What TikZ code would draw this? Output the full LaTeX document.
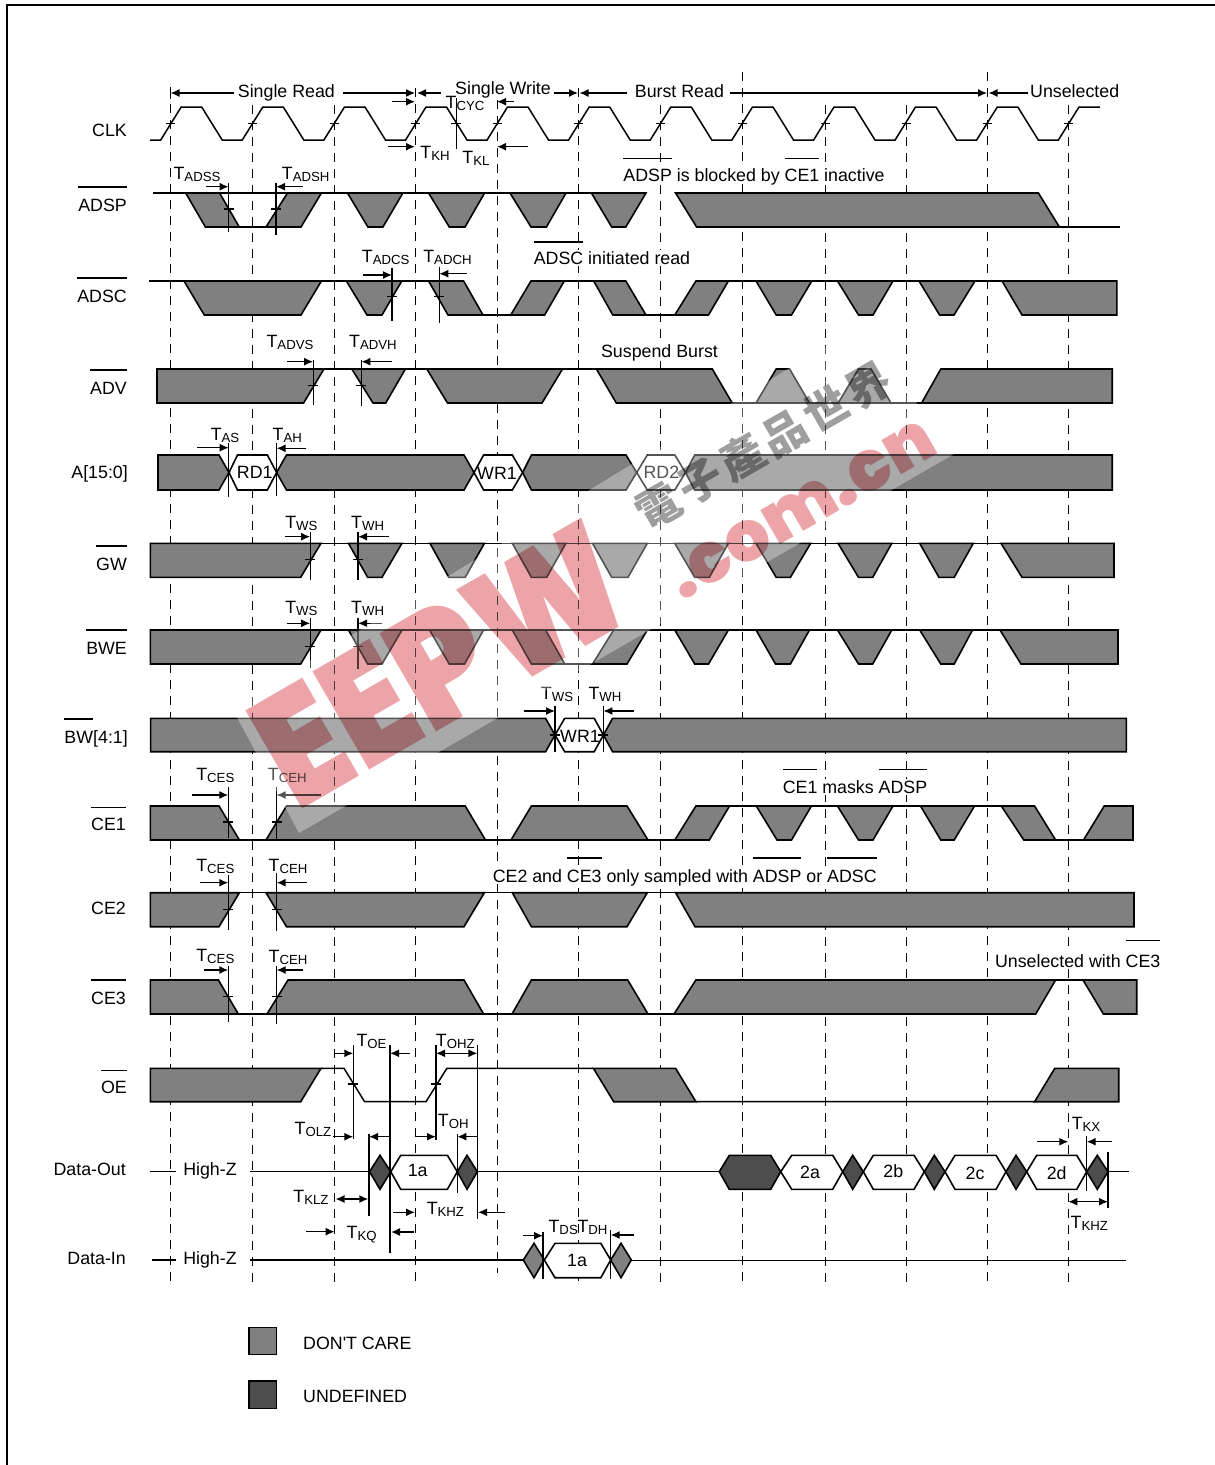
\documentclass[tikz,border=0pt]{standalone}
\usepackage{fontspec}
\setmainfont{Liberation Sans}
\newfontfamily\cjkfont[LetterSpace=10]{Noto Sans CJK SC}
\newfontfamily\wmfont[UprightFont=* Black]{Poppins}
\usetikzlibrary{arrows.meta}
\definecolor{dcgray}{HTML}{808080}
\definecolor{undefgray}{HTML}{4D4D4D}
\definecolor{wmred}{HTML}{ECA4A8}
\newbox\ovlbox
\newcommand\ovl[2][23.5pt]{\setbox\ovlbox=\hbox{#2}\rlap{\smash{\raisebox{#1}{\rule{\wd\ovlbox}{1.4pt}}}}\box\ovlbox}
\newcommand\tlab[1]{T\raisebox{-2pt}{\fontsize{13.2}{14}\selectfont #1}}
\newcommand\bands[3]{\foreach \a/\b/\c/\d in {#3} \draw[dc] (\a,#1)--(\b,#1)--(\c,#2)--(\d,#2)--cycle;}
\newcommand\hexes[5]{\foreach \a/\b/\c/\d in {#5} \draw[#1] (\a,#3)--(\b,#2)--(\c,#2)--(\d,#3)--(\c,#4)--(\b,#4)--cycle;}
\newcommand\vmark[4]{\draw[mk] (#1,#2)--(#1,#3); \draw[mk] (#1,#4) ++(-5,0)--++(10,0);}
\tikzset{
  dc/.style={fill=dcgray,draw=black,line width=1.6pt},
  ln/.style={draw=black,line width=1.5pt},
  mk/.style={draw=black,line width=1.3pt},
  ar/.style={draw=black,line width=1.4pt,-{Latex[length=9pt,width=8pt]}},
  dar/.style={draw=black,line width=1.4pt,{Latex[length=9pt,width=8pt]}-{Latex[length=9pt,width=8pt]}},
  gdash/.style={draw=black,line width=1pt,dash pattern=on 9pt off 7pt},
  lab/.style={font=\fontsize{17.8}{19}\selectfont,inner sep=0pt,text height=12pt,text depth=0pt},
  sig/.style={lab,anchor=east},
  note/.style={lab,fill=white,inner ysep=2pt},
  whex/.style={fill=white,draw=black,line width=1.6pt},
  dhex/.style={fill=undefgray,draw=black,line width=1.6pt},
  ghex/.style={fill=dcgray,draw=black,line width=1.6pt}
}
\begin{document}
\begin{tikzpicture}[x=1pt,y=-1pt]
\useasboundingbox (0,0) rectangle (1215,1465);
\draw[line width=2pt] (7,1465)--(7,5)--(1215,5);
\foreach \x/\ya/\yb in {170.5/88/1282,252/105/1282,334.5/105/1282,415.5/88/1282,497/100/1273,578.4/88/1282,660/105/1282,742.5/72/1282,825/105/1282,906/105/1282,987.5/72/1282,1068.5/105/1282}
  \draw[gdash] (\x,\ya)--(\x,\yb);

\draw[ln] (150,140)--(160.7,140)
  \foreach \r in {160.7,242.3,324,405.5,487,568.7,650.3,732,813.5,895,976.8} {
    --(\r+20.5,107)--(\r+41,107)--(\r+61.5,140)--(\r+81.6,140)}
  --(1079,107)--(1100,107);
\foreach \x in {170.5,252,334.5,415.5,497,578.4,660,742.5,825,906,987.5,1068.5}
  \draw[mk] (\x-4.5,123.5)--(\x+4.5,123.5);
\vmark{456.4}{98}{149}{123.5}

\draw[ln] (153,193)--(622,193) (239,227)--(266,227) (1059,227)--(1119.5,227);
\bands{193}{227}{185.7/219.6/239.3/205.4,347.5/402.9/382.9/367.9,428.6/484.6/465/449.3,510/566/546.4/531,591.4/646/625.8/611.7,675.6/1038.4/1059.4/696.6}
\draw[dc] (287.5,193)--(321.4,193)--(301,227)--(266,227)--cycle;

\draw[ln] (149,281)--(463,281) (483,315)--(511,315) (531,281)--(626,281) (646,315)--(675,315) (696,281)--(1002,281);
\bands{281}{315}{184/321.4/301/204.3,346.4/401.8/382/367,428.6/463.6/483/448,593.7/625.8/646/612.8,756/811.8/791.5/776.2,837.5/893/873/858.5,919/975/954/939.6,1002/1116.8/1116.8/1022}
\draw[dc] (531,281)--(564.3,281)--(544.6,315)--(510.7,315)--cycle;
\draw[dc] (695.9,281)--(728.4,281)--(708.5,315)--(674.8,315)--cycle;

\draw[ln] (324,369)--(352,369) (405,369)--(427,369) (562,369)--(597,369) (732,403)--(922,403);
\bands{369}{403}{157/324/303.6/157,351.8/405.4/385.7/373,426.8/562.5/542/447.5,596.4/712.3/732.2/616.3}
\draw[dc] (756,403)--(776.2,369)--(789.6,369)--(809.5,403)--cycle;
\draw[dc] (838.2,403)--(858.5,369)--(871,369)--(891,403)--cycle;
\draw[dc] (921.6,403)--(940.8,369)--(1112.2,369)--(1112.2,403)--cycle;

\draw[ghex] (158,455)--(219,455)--(229,472.5)--(219,490)--(158,490)--cycle;
\hexes{ghex}{455}{472.5}{490}{276.6/286.5/464/474,522.6/531.4/626/636.7}
\hexes{whex}{455}{472.5}{490}{229/237.5/267.4/276.6,474/483.6/512.3/522.6,636.7/647.3/674.8/685.5}
\draw[ghex] (685.5,472.5)--(694.7,455)--(1112.2,455)--(1112.2,490)--(694.7,490)--cycle;

\draw[ln] (321,543.3)--(1001,543.3);
\bands{543.3}{577.3}{150.3/321/300.7/150.3,348.5/402/382/367.6,430/484.4/465.2/448.8,512.3/565.9/546.7/531.4,592.5/647.3/628/611.7,674.8/728.4/709.3/694.7,756/810.7/790.4/776.2,838/891.8/872.7/858.5,919.7/973.3/954.2/938.9,1001/1114/1114/1022}

\draw[ln] (321,630)--(1000,630) (564.7,664)--(592.7,664);
\bands{630}{664}{150.3/321/300.7/150.3,348.5/402/382/367.6,429.6/483.6/464.5/449.2,512.3/545.6/564.7/531.4,674.8/728.4/708.5/694.7,756/809.5/790.4/775.5,837.5/891.8/872.7/858.5,919.7/972.5/954.2/940.8,1000/1118/1118/1021}
\draw[dc] (592.6,664)--(613.6,630)--(647.3,630)--(627,664)--cycle;

\draw[ghex] (150.6,718.3)--(545.6,718.3)--(555,735)--(545.6,751.7)--(150.6,751.7)--cycle;
\hexes{whex}{718.3}{735}{751.7}{555/564.7/594.2/603.4}
\draw[ghex] (603.4,735)--(612.6,718.3)--(1126.4,718.3)--(1126.4,751.7)--(612.6,751.7)--cycle;

\draw[ln] (239.4,840)--(266,840) (485.5,840)--(511,840) (648,840)--(675,840) (1055.6,840)--(1083.5,840) (696,806)--(1001,806);
\bands{806}{840}{150.3/219/239.4/150.3,531.4/627/648/511,1001.3/1034.6/1055.6/1023.8,756.3/811.4/791.5/777,837.5/893/873/858.5,920.5/974.5/954.2/940.8}
\draw[dc] (266,840)--(286.5,806)--(465.2,806)--(485.5,840)--cycle;
\draw[dc] (674.8,840)--(695.9,806)--(729.5,806)--(709.3,840)--cycle;
\draw[dc] (1083.5,840)--(1104.2,806)--(1133,806)--(1133,840)--cycle;

\draw[ln] (239.4,892.7)--(266,892.7) (484.4,892.7)--(512.3,892.7) (647.3,892.7)--(675.6,892.7);
\bands{892.7}{926.7}{150.3/239.4/219/150.3,266/484.4/464/286.5,512.3/647.3/627/531.4,675.6/1134/1134/695}

\draw[ln] (238.3,1014)--(267,1014) (483.6,1014)--(512,1014) (648,1014)--(674,1014) (1055.6,980)--(1083,980);
\bands{980}{1014}{150.3/218.4/238.3/150.3,288/464/483.6/267,531.4/627.7/648/512,695.9/1055.6/1035.7/674,1083/1136.7/1136.7/1103.4}

\draw[ln] (321,1068.3)--(344,1068.3)--(364.6,1101.7)--(426,1101.7)--(446.9,1068.3)--(593.4,1068.3) (695.9,1101.7)--(1034.6,1101.7);
\bands{1068.3}{1101.7}{150.3/321/300.7/150.3,593.4/675.6/695.9/613.7}
\draw[dc] (1034.6,1101.7)--(1054.8,1068.3)--(1118.7,1068.3)--(1118.7,1101.7)--cycle;

\draw[ln] (149.6,1171.7)--(175.7,1171.7) (249.7,1171.7)--(369.5,1171.7) (477.4,1171.7)--(719.3,1171.7) (1108,1171.7)--(1129,1171.7);
\hexes{dhex}{1155.3}{1171.7}{1189.3}{369.5/380/380/390.8,457.3/467/467/477.4,719.3/729.3/770.7/780.7,842.7/852.7/852.7/863.3,924.3/934.3/934.3/945,1006/1016/1016/1026.7,1086.7/1097.3/1097.3/1108}
\hexes{whex}{1155.3}{1171.7}{1189.3}{390.8/400.7/447.4/457.3,780.7/791.7/832.7/842.7,863.3/873.3/914/924.3,945/955/996/1006,1026.7/1036.7/1076.7/1086.7}

\draw[ln] (152,1260)--(175.7,1260) (249.7,1260)--(523.3,1260) (631.3,1260.5)--(1125.7,1260.5);
\hexes{ghex}{1243.3}{1260}{1277.7}{523.3/534/534/544.3,610.7/621/621/631.3}
\hexes{whex}{1243.3}{1260}{1277.7}{544.3/555/600.8/610.7}

\draw[ghex] (249,1327.3) rectangle (276.6,1354.3);
\draw[dhex] (249,1381) rectangle (276.6,1408.3);

\node[sig] (clk) at (127,130) {CLK};
\node[sig] (adsp) at (127,205) {\ovl{ADSP}};
\node[sig] (adsc) at (127,296) {\ovl{ADSC}};
\node[sig] (adv) at (127,388) {\ovl{ADV}};
\node[sig] (addr) at (128,472) {A[15:0]};
\node[sig] (gw) at (127,564) {\ovl{GW}};
\node[sig] (bwe) at (127,648) {\ovl{BWE}};
\node[sig] (bw) at (128,737) {\ovl{BW}[4:1]};
\node[sig] (ceone) at (126,824) {\ovl[22pt]{CE1}};
\node[sig] (cetwo) at (126,908) {CE2};
\node[sig] (cethree) at (126,998) {\ovl{CE3}};
\node[sig] (oe) at (127,1087) {\ovl[22pt]{OE}};
\node[sig] (dout) at (126,1169) {Data-Out};
\node[sig] (din) at (126,1258) {Data-In};
\node[lab] (hzout) at (210,1169) {High-Z};
\node[lab] (hzin) at (210,1258) {High-Z};
\node[lab] (rdone) at (254.7,472) {RD1};
\node[lab] (wrone) at (497,473) {WR1};
\node[lab] (rdtwo) at (661.4,472) {RD2};
\node[lab] (wrbw) at (580,736) {WR1};
\node[lab] (outa) at (417.7,1170) {1a};
\node[lab] (outb) at (810,1172) {2a};
\node[lab] (outc) at (893.3,1171) {2b};
\node[lab] (outd) at (975,1173) {2c};
\node[lab] (oute) at (1056.7,1173) {2d};
\node[lab] (ina) at (577,1260) {1a};
\node[lab,anchor=west] (dontcare) at (303,1343) {DON\textquotesingle T CARE};
\node[lab,anchor=west] (undef) at (303,1396) {UNDEFINED};

\node[lab] (sread) at (286.4,91) {Single Read};
\node[lab] (swrite) at (503,88) {Single Write};
\node[lab] (bread) at (679.4,91) {Burst Read};
\node[lab] (unsel) at (1074.7,91) {Unselected};
\node[note] (noteadsp) at (754,175) {\ovl[22pt]{ADSP} is blocked by \ovl[22pt]{CE1} inactive};
\node[note] (noteadsc) at (612,258) {\ovl[21.5pt]{ADSC} initiated read};
\node[note] (notesusp) at (659.5,351) {Suspend Burst};
\node[note] (notemask) at (855,787) {\ovl[22.7pt]{CE1} masks \ovl[22.7pt]{ADSP}};
\node[note] (notece) at (684.7,876) {CE2 and \ovl{CE3} only sampled with \ovl{ADSP} or \ovl{ADSC}};
\node[note] (noteunsel) at (1077.7,961) {Unselected with \ovl[26pt]{CE3}};

\draw[mk] (170.5,87)--(170.5,99);
\draw[ar] (234,93)--(170.5,93);
\draw[ar] (343,93)--(415,93);
\draw[ar] (441,93)--(417,93);
\draw[ar] (554,93)--(578,93);
\draw[ar] (627,93)--(579.5,93);
\draw[ar] (730.3,93)--(987,93);
\draw[ar] (1027.6,93)--(988.5,93);

\node[lab] (tcyc) at (465,102) {\tlab{CYC}};
\draw[ar] (391.8,101.7)--(415,101.7);
\draw[ar] (514,101.7)--(497,101.7);
\node[lab] (tkh) at (435,152) {\tlab{KH}};
\draw[ar] (387.5,146.7)--(415,146.7);
\node[lab] (tkl) at (476,157) {\tlab{KL}};
\draw[ar] (527.5,146.7)--(497,146.7);

\node[lab] (tadss) at (197,173) {\tlab{ADSS}};
\draw[ar] (206,186.7)--(228.6,186.7);
\vmark{228.6}{182.7}{231.7}{209}
\node[lab] (tadsh) at (305.7,173) {\tlab{ADSH}};
\draw[ar] (302.5,186.7)--(276,186.7);
\vmark{276}{182.7}{235}{209}

\node[lab] (tadcs) at (385.7,256) {\tlab{ADCS}};
\draw[ar] (362.5,275)--(392,275);
\vmark{392}{268}{321}{296.7}
\node[lab] (tadch) at (447.5,256) {\tlab{ADCH}};
\draw[ar] (467,273.7)--(439.3,273.7);
\vmark{439.3}{266.7}{322.7}{296.7}

\node[lab] (tadvs) at (290,341) {\tlab{ADVS}};
\draw[ar] (286.8,361.7)--(313.2,361.7);
\vmark{313.2}{360}{405}{385.7}
\node[lab] (tadvh) at (373,341) {\tlab{ADVH}};
\draw[ar] (392,361.7)--(361.4,361.7);
\vmark{361.4}{360}{405.7}{385.7}

\node[lab] (tas) at (225,434) {\tlab{AS}};
\draw[ar] (197.3,447.7)--(228.7,447.7);
\draw[mk] (228.7,443)--(228.7,496.7);
\node[lab] (tah) at (287.3,434) {\tlab{AH}};
\draw[ar] (306.4,448.3)--(276.6,448.3);
\draw[mk] (276.6,443)--(276.6,495.7);

\node[lab] (twsgw) at (301.4,522) {\tlab{WS}};
\draw[ar] (284.6,536.7)--(310.2,536.7);
\vmark{310.2}{531.7}{580}{559.3}
\node[lab] (twhgw) at (367.6,522) {\tlab{WH}};
\draw[ar] (388.7,536.7)--(358,536.7);
\vmark{358}{531.7}{580}{559.3}

\node[lab] (twsbwe) at (301.4,607.5) {\tlab{WS}};
\draw[ar] (286.5,623.3)--(310.2,623.3);
\vmark{310.2}{618.3}{668}{646.7}
\node[lab] (twhbwe) at (367.6,607.5) {\tlab{WH}};
\draw[ar] (382.2,623.3)--(358,623.3);
\vmark{358}{618.3}{669}{646.7}

\node[lab] (twsbw) at (557,693) {\tlab{WS}};
\draw[ar] (523.8,711)--(555,711);
\vmark{555}{706}{751.7}{735}
\node[lab] (twhbw) at (605,693) {\tlab{WH}};
\draw[ar] (634.4,711)--(603.4,711);
\vmark{603.4}{706}{752}{735}

\node[lab] (tcesone) at (215.3,774) {\tlab{CES}};
\draw[ar] (191.6,795)--(228.3,795);
\vmark{228.3}{787.3}{838}{822}
\node[lab] (tcehone) at (287.3,774) {\tlab{CEH}};
\draw[ar] (320.6,795)--(276.6,795);
\vmark{276.6}{787}{839}{822}

\node[lab] (tcestwo) at (215.3,865) {\tlab{CES}};
\draw[ar] (200,882.7)--(228.3,882.7);
\vmark{228.3}{875}{930}{909.3}
\node[lab] (tcehtwo) at (288,865) {\tlab{CEH}};
\draw[ar] (307.2,882.7)--(276.6,882.7);
\vmark{276.6}{873}{930.7}{909.3}

\node[lab] (tcesthree) at (215.3,955) {\tlab{CES}};
\draw[ar] (203.8,970)--(228.3,970);
\vmark{228.3}{966}{1021.7}{996.7}
\node[lab] (tcehthree) at (288,956) {\tlab{CEH}};
\draw[ar] (303.3,970)--(276.6,970);
\vmark{276.6}{966}{1024}{996.7}

\node[lab] (toe) at (371.5,1040) {\tlab{OE}};
\draw[ar] (334.7,1053.3)--(353.3,1053.3);
\draw[ar] (409.8,1053.3)--(390,1053.3);
\vmark{353.3}{1045}{1139}{1084}
\draw[mk] (390,1045)--(390,1252.7);
\node[lab] (tohz) at (455.3,1040) {\tlab{OHZ}};
\draw[dar] (436,1053.3)--(477.4,1053.3);
\vmark{436}{1045}{1140}{1084}
\draw[mk] (477.4,1045)--(477.4,1219.3);
\node[lab] (toh) at (453.3,1120) {\tlab{OH}};
\draw[ar] (415,1136.7)--(436,1136.7);
\draw[ar] (477.4,1136.7)--(457.3,1136.7);
\node[lab] (tolz) at (313,1128) {\tlab{OLZ}};
\draw[ar] (332.7,1136.7)--(353.3,1136.7);
\draw[ar] (390,1136.7)--(369,1136.7);
\draw[mk] (369,1134)--(369,1216);
\draw[mk] (457.3,1134)--(457.3,1193);
\node[lab] (tklz) at (311,1196) {\tlab{KLZ}};
\draw[dar] (335.5,1199)--(368.3,1199);
\node[lab] (tkhz) at (445.4,1208) {\tlab{KHZ}};
\draw[ar] (393,1212.3)--(415,1212.3);
\draw[ar] (504.7,1212.3)--(478,1212.3);
\node[lab] (tkq) at (361.6,1232.3) {\tlab{KQ}};
\draw[ar] (305.8,1231.7)--(334.7,1231.7);
\draw[ar] (413.8,1232)--(391,1232);
\node[lab] (tds) at (563.2,1226.7) {\tlab{DS}};
\node[lab] (tdh) at (592.5,1226.7) {\tlab{DH}};
\draw[ar] (523.3,1235.7)--(543,1235.7);
\draw[ar] (634,1235)--(610.7,1235);
\draw[mk] (543,1231.7)--(543,1279.3);
\draw[mk] (610.7,1230)--(610.7,1279.3);
\node[lab] (tkx) at (1086,1123) {\tlab{KX}};
\draw[ar] (1037.3,1141.7)--(1068.3,1141.7);
\draw[ar] (1111.7,1141.7)--(1086.7,1141.7);
\draw[mk] (1086.7,1136)--(1086.7,1191);
\draw[mk] (1108,1151.7)--(1108,1208);
\node[lab] (tkhzb) at (1089.3,1222.7) {\tlab{KHZ}};
\draw[dar] (1068.3,1201.7)--(1108,1201.7);

\fill[white,opacity=.33] (232,708)--(860,325)--(954,454)--(299,833)--cycle;
\begin{scope}[blend mode=multiply]
\node[text=wmred,inner sep=0pt,font=\wmfont\fontsize{160}{160}\selectfont,rotate=30,xscale=.87,transform shape] (eepw) at (441,664) {EEPW};
\node[text=wmred,inner sep=0pt,font=\wmfont\fontsize{70}{70}\selectfont,rotate=30] (comcn) at (802,510) {.com.cn};
\node[text=black!38,inner sep=0pt,font=\cjkfont\bfseries\fontsize{44}{44}\selectfont,rotate=30] (wmcn) at (763,445) {電子產品世界};
\end{scope}
\end{tikzpicture}
\end{document}
